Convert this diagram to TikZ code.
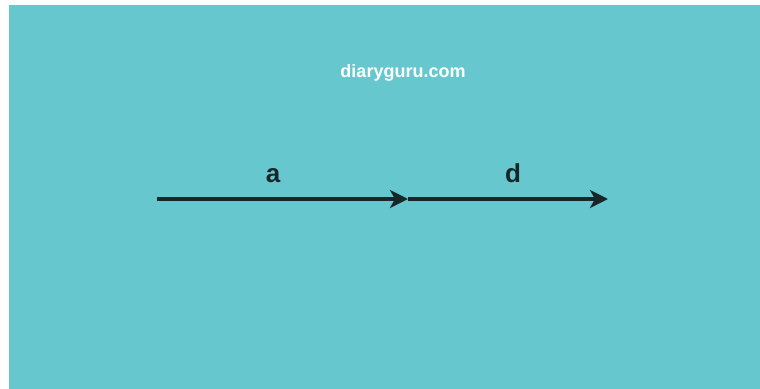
\documentclass[tikz,border=0pt]{standalone}
\usepackage{fontspec}
\setmainfont{Liberation Sans}
\usepackage{tikz}
\usetikzlibrary{arrows.meta,positioning}
\definecolor{diaryteal}{RGB}{102,200,206}
\definecolor{vectordark}{RGB}{24,38,42}

\begin{document}
\begin{tikzpicture}[
        x=0.5pt, y=-0.5pt,
        vec/.style={line width=2.2pt, draw=vectordark,
            -{Stealth[length=9pt,width=9pt,inset=2.5pt]}},
        veclabel/.style={font=\fontsize{13}{13}\selectfont\bfseries,
            text=vectordark, anchor=base},
        sitemark/.style={font=\fontsize{9}{9}\selectfont\bfseries,
            text=white}
    ]
        \useasboundingbox[fill=white] (0,0) rectangle (760,389);
        \fill[diaryteal] (9,5) rectangle (760,389);

        \node[sitemark] (site) at (403,73) {diaryguru.com};

        \coordinate (tailA) at (157,199);
        \coordinate (headA) at (408,199);
        \coordinate (headD) at (608,199);

        \draw[vec] (tailA) -- (headA);
        \draw[vec] (headA) -- (headD);

        \node[veclabel] (labA) at (273,183) {a};
        \node[veclabel] (labD) at (513,183) {d};
    \end{tikzpicture}
\end{document}
